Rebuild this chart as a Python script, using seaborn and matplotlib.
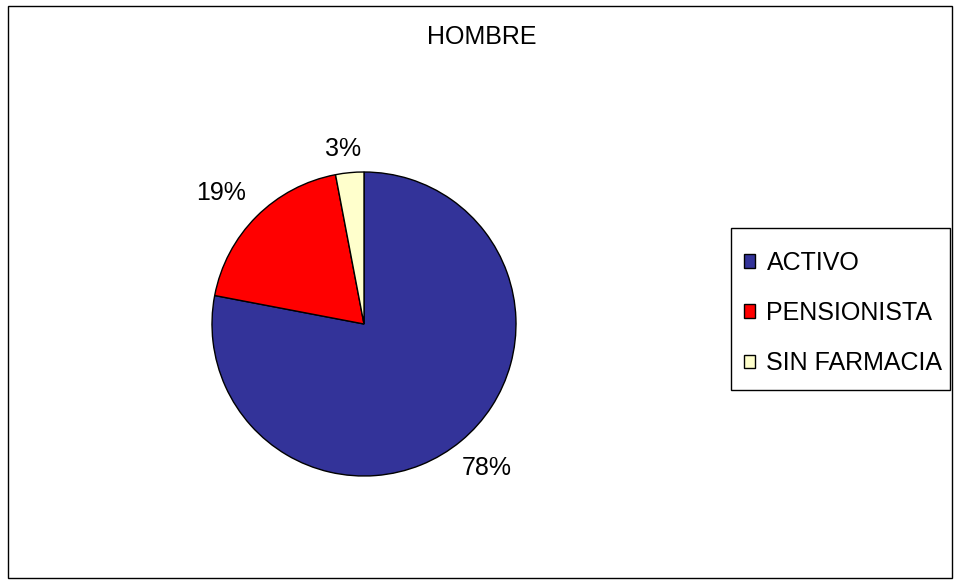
import matplotlib
matplotlib.use("Agg")
import matplotlib.pyplot as plt
import seaborn as sns
from matplotlib.patches import Rectangle

sns.set_theme(style="white")
plt.rcParams['font.family'] = ['Liberation Sans', 'DejaVu Sans']
plt.rcParams['text.color'] = 'black'

categories = ["ACTIVO", "PENSIONISTA", "SIN FARMACIA"]
values = [78, 19, 3]
colors = ["#333399", "#FF0000", "#FFFFCC"]
title = "HOMBRE"

W, H = 960, 584
FS = 18
fig = plt.figure(figsize=(W / 100, H / 100), dpi=100)
fig.patch.set_facecolor("white")

# outer border
fig.add_artist(Rectangle((8 / W, 6 / H), 944 / W, 572 / H, transform=fig.transFigure,
                         fill=False, edgecolor="black", linewidth=1))

cx, cy, r = 364, 324, 152
ax = fig.add_axes([(cx - r) / W, (H - cy - r) / H, 2 * r / W, 2 * r / H])
wedges, texts, autotexts = ax.pie(
    values, colors=colors, startangle=90, counterclock=False,
    autopct=lambda p: f"{p:.0f}%", pctdistance=1.25,
    wedgeprops=dict(edgecolor="black", linewidth=1),
    textprops=dict(fontsize=FS, color="black"),
)
ax.set_xlim(-1, 1)
ax.set_ylim(-1, 1)
ax.set_aspect("equal")
ax.axis("off")
# label placement (outside end, as in the original)
label_pos = [(123, -144), (-143, 131), (-21, 175)]
for t, (dx, dy) in zip(autotexts, label_pos):
    t.set_position((dx / r, dy / r))

fig.text(482 / W, 1 - 37 / H, title, ha="center", va="center", fontsize=FS, color="black")

# legend box
fig.add_artist(Rectangle((731 / W, 1 - 390 / H), 219 / W, 162 / H, transform=fig.transFigure,
                         fill=True, facecolor="white", edgecolor="black", linewidth=1, zorder=2))
leg = fig.legend(wedges, categories, loc="center left", bbox_to_anchor=(744 / W, 1 - 313 / H),
                 fontsize=FS, frameon=False,
                 handlelength=0.45, handleheight=0.45, handletextpad=0.45,
                 labelspacing=1.05, borderpad=0, borderaxespad=0)
leg.set_zorder(3)
for t in leg.get_texts():
    t.set_color("black")

fig.savefig("out.png", dpi=100, facecolor="white")
